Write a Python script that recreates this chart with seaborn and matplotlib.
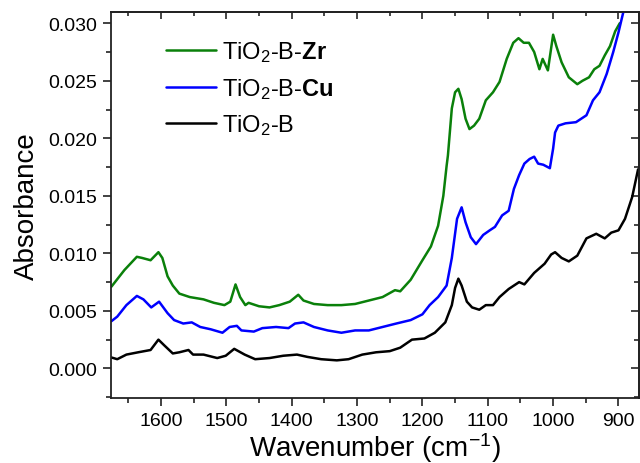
import numpy as np
import pandas as pd
import seaborn as sns
import matplotlib.pyplot as plt
from matplotlib.ticker import MultipleLocator

# wavenumber (cm-1) and absorbance
zr_x = [1676, 1656, 1637, 1629, 1616, 1604, 1598, 1590, 1582, 1572, 1556, 1535, 1519, 1503,
        1494, 1486, 1479, 1471, 1466, 1450, 1434, 1419, 1403, 1390, 1382, 1366, 1345, 1324,
        1303, 1282, 1261, 1242, 1234, 1218, 1200, 1187, 1176, 1168, 1163, 1161, 1155, 1150,
        1145, 1140, 1134, 1128, 1121, 1113, 1103, 1092, 1082, 1071, 1061, 1053, 1045, 1037,
        1029, 1021, 1016, 1008, 1000, 995, 987, 976, 963, 955, 945, 937, 929, 921, 913, 905, 898]
zr_y = [0.0071, 0.00855, 0.0097, 0.0096, 0.0094, 0.0101, 0.0096, 0.0080, 0.0072, 0.0065,
        0.0062, 0.0060, 0.0057, 0.0055, 0.0058, 0.0073, 0.0062, 0.0055, 0.0057, 0.0054,
        0.0053, 0.0055, 0.0058, 0.0064, 0.0059, 0.0056, 0.0055, 0.0055, 0.0056, 0.0059,
        0.0062, 0.0068, 0.0067, 0.0077, 0.0094, 0.0106, 0.0124, 0.0150, 0.0176, 0.0185,
        0.0226, 0.0240, 0.0243, 0.0234, 0.0217, 0.0208, 0.0211, 0.0217, 0.0233, 0.0240,
        0.0249, 0.0269, 0.0283, 0.0287, 0.0283, 0.0283, 0.0275, 0.0260, 0.0269, 0.0259,
        0.0290, 0.0280, 0.0266, 0.0253, 0.0247, 0.0250, 0.0253, 0.0260, 0.0263, 0.0272,
        0.0280, 0.0293, 0.0300]

cu_x = [1676, 1667, 1653, 1637, 1627, 1615, 1603, 1590, 1580, 1566, 1553, 1540, 1524, 1506,
        1495, 1484, 1477, 1458, 1445, 1424, 1405, 1395, 1382, 1366, 1345, 1324, 1303, 1282,
        1261, 1240, 1218, 1200, 1189, 1176, 1163, 1155, 1147, 1140, 1134, 1126, 1118, 1107,
        1097, 1089, 1078, 1068, 1060, 1052, 1044, 1036, 1029, 1023, 1015, 1005, 1000, 997,
        992, 981, 965, 949, 939, 929, 918, 908, 900, 892, 885]
cu_y = [0.0041, 0.0045, 0.0055, 0.0063, 0.0060, 0.0053, 0.0058, 0.0048, 0.0042, 0.0039,
        0.0040, 0.0036, 0.0034, 0.0031, 0.0036, 0.0037, 0.0033, 0.0032, 0.0035, 0.0036,
        0.0035, 0.0039, 0.0040, 0.0036, 0.0033, 0.0031, 0.0033, 0.0033, 0.0036, 0.0039,
        0.0042, 0.0047, 0.0055, 0.0062, 0.0072, 0.0096, 0.0130, 0.0140, 0.0127, 0.0114,
        0.0108, 0.0116, 0.0120, 0.0123, 0.0133, 0.0137, 0.0156, 0.0168, 0.0178, 0.0182,
        0.0184, 0.0178, 0.0177, 0.0174, 0.0191, 0.0205, 0.0211, 0.0213, 0.0214, 0.0220,
        0.0233, 0.0240, 0.0256, 0.0275, 0.0292, 0.0311, 0.0330]

b_x = [1676, 1667, 1653, 1635, 1616, 1604, 1595, 1582, 1572, 1558, 1551, 1535, 1514, 1501,
       1488, 1472, 1456, 1434, 1413, 1392, 1376, 1355, 1331, 1313, 1292, 1271, 1250, 1234,
       1216, 1197, 1181, 1165, 1155, 1150, 1145, 1140, 1132, 1124, 1113, 1103, 1092, 1082,
       1068, 1052, 1044, 1029, 1013, 1003, 997, 987, 976, 963, 949, 934, 921, 911, 900,
       890, 879, 870]
b_y = [0.00095, 0.0008, 0.0012, 0.0014, 0.0016, 0.0025, 0.0020, 0.0013, 0.0014, 0.0016,
       0.0012, 0.0012, 0.0009, 0.0011, 0.0017, 0.0012, 0.0008, 0.0009, 0.0011, 0.0012,
       0.0010, 0.0008, 0.0007, 0.0008, 0.0012, 0.0014, 0.0015, 0.0018, 0.0025, 0.0026,
       0.0031, 0.0040, 0.0055, 0.0070, 0.0078, 0.0072, 0.0058, 0.0053, 0.0051, 0.0055,
       0.0055, 0.0062, 0.0069, 0.0075, 0.0073, 0.0083, 0.0091, 0.0099, 0.0101, 0.0096,
       0.0093, 0.0098, 0.0113, 0.0117, 0.0113, 0.0118, 0.0120, 0.0130, 0.0149, 0.0173]

labels = [r'TiO$_2$-B-$\mathbf{Zr}$', r'TiO$_2$-B-$\mathbf{Cu}$', r'TiO$_2$-B']
colors = ['#0a800a', '#0000ff', '#000000']

sns.set_style('ticks')
plt.rcParams['font.family'] = ['Liberation Sans', 'DejaVu Sans']
plt.rcParams['mathtext.fontset'] = 'custom'
plt.rcParams['mathtext.rm'] = 'Liberation Sans'
plt.rcParams['mathtext.bf'] = 'Liberation Sans:bold'
plt.rcParams['mathtext.it'] = 'Liberation Sans:italic'
plt.rcParams['text.color'] = 'black'
plt.rcParams['axes.labelcolor'] = 'black'
plt.rcParams['xtick.labelcolor'] = 'black'
plt.rcParams['ytick.labelcolor'] = 'black'

fig = plt.figure(figsize=(6.4, 4.64), dpi=100)
ax = fig.add_axes([0.173, 0.1394, 0.825, 0.8332])

for xs, ys, lab, col in zip([zr_x, cu_x, b_x], [zr_y, cu_y, b_y], labels, colors):
    sns.lineplot(x=xs, y=ys, ax=ax, color=col, lw=1.8, label=lab, estimator=None)

ax.set_xlim(1677, 869)
ax.set_ylim(-0.0026, 0.031)
ax.xaxis.set_major_locator(MultipleLocator(100))
ax.xaxis.set_minor_locator(MultipleLocator(50))
ax.yaxis.set_major_locator(MultipleLocator(0.005))
ax.yaxis.set_minor_locator(MultipleLocator(0.0025))
ax.yaxis.set_major_formatter(plt.FormatStrFormatter('%.3f'))

ax.tick_params(which='major', direction='out', length=6, width=1.2, labelsize=14, color='#222222')
ax.tick_params(which='minor', direction='out', length=3.5, width=1.2, color='#222222')

top = ax.secondary_xaxis('top')
top.xaxis.set_major_locator(MultipleLocator(100))
top.xaxis.set_minor_locator(MultipleLocator(50))
top.tick_params(which='major', direction='in', length=5, width=1.2, labeltop=False)
top.tick_params(which='minor', direction='in', length=3, width=1.2)
right = ax.secondary_yaxis('right')
right.yaxis.set_major_locator(MultipleLocator(0.005))
right.yaxis.set_minor_locator(MultipleLocator(0.0025))
right.tick_params(which='major', direction='in', length=6, width=1.2, labelright=False)
right.tick_params(which='minor', direction='in', length=3.5, width=1.2)

for sp in ax.spines.values():
    sp.set_linewidth(1.3)
    sp.set_color('#222222')
top.spines['top'].set_linewidth(1.3)
right.spines['right'].set_linewidth(1.3)

ax.set_xlabel('Wavenumber (cm$^{-1}$)', fontsize=20, labelpad=1)
ax.set_ylabel('Absorbance', fontsize=20, labelpad=6)

ax.legend(loc='upper left', bbox_to_anchor=(0.065, 0.984), frameon=False, fontsize=17,
          handlelength=2.1, handletextpad=0.25, labelspacing=0.5)

fig.savefig('out.png', dpi=100)
